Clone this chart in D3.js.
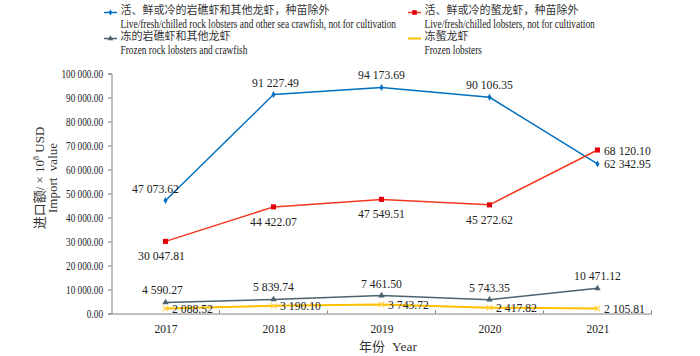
<!DOCTYPE html>
<html><head><meta charset="utf-8">
<script src="https://cdn.jsdelivr.net/npm/d3@7/dist/d3.min.js"></script>
<style>
html,body{margin:0;padding:0;background:#fff;}
svg{display:block;}
</style></head>
<body><svg id="c" width="700" height="356"></svg>
<script>
// ---------- data ----------
const years = ["2017", "2018", "2019", "2020", "2021"];
const rockLive = [47073.62, 91227.49, 94173.69, 90106.35, 62342.95];
const lobsterLive = [30047.81, 44422.07, 47549.51, 45272.62, 68120.10];
const rockFrozen = [4590.27, 5839.74, 7461.50, 5743.35, 10471.12];
const lobsterFrozen = [2088.52, 3190.10, 3743.72, 2417.82, 2105.81];
const yTicks = [0, 10000, 20000, 30000, 40000, 50000, 60000, 70000, 80000, 90000, 100000];
const seriesNamesZh = ["活、鲜或冷的岩礁虾和其他龙虾，种苗除外", "活、鲜或冷的螯龙虾，种苗除外", "冻的岩礁虾和其他龙虾", "冻螯龙虾"];
const seriesNamesEn = ["Live/fresh/chilled rock lobsters and other sea crawfish, not for cultivation",
  "Live/fresh/chilled lobsters, not for cultivation", "Frozen rock lobsters and crawfish", "Frozen lobsters"];

// ---------- styles ----------
const SERIF = "'Liberation Serif','Times New Roman',serif";
const CJK = "'Noto Sans CJK SC','Noto Sans CJK JP',sans-serif";
const styles = [
  {values: rockLive, line: "#0070C0", mark: "#0070C0", sym: d3.symbolDiamond, size: 14, width: 1.5,
   place: ["above","above","above","above","right"], dx: [-10, 2, 0, 0, 0]},
  {values: lobsterLive, line: "#F2381C", mark: "#E3000B", sym: d3.symbolSquare, size: 26, width: 1.5,
   place: ["below","below","below","below","right"], dx: [-4, 0, 0, 0, 0]},
  {values: rockFrozen, line: "#4B616E", mark: "#4B616E", sym: d3.symbolTriangle, size: 18, width: 1.5,
   place: ["above","above","above","above","above"], dx: [-3, 0, 0, 0, 0]},
  {values: lobsterFrozen, line: "#FFC000", mark: "#FFD24A", sym: d3.symbolTimes, size: 22, width: 2,
   place: ["right","right","right","right","right"], dx: [0, 0, 0, 0, 0], stroke: true}
];

const svg = d3.select("#c");
const loc = d3.formatLocale({decimal: ".", thousands: " ", grouping: [3], currency: ["", ""]});
const fmt = loc.format(",.2f");

function condense(sel, f) {
  sel.each(function() {
    const n = this.getComputedTextLength();
    if (n > 0) { this.setAttribute("textLength", n * f); this.setAttribute("lengthAdjust", "spacingAndGlyphs"); }
  });
}

// ---------- scales ----------
const pLeft = 111.5, pRight = 651.5, pTop = 73.5, pBottom = 313.5;
const x = d3.scalePoint().domain(years).range([pLeft, pRight]).padding(0.5);
const step = x.step();
const y = d3.scaleLinear().domain([0, 100000]).range([pBottom, pTop]);

// ---------- axes ----------
const yAxis = svg.append("g").attr("transform", `translate(${pLeft},0)`)
  .call(d3.axisLeft(y).tickValues(yTicks).tickFormat(fmt).tickSize(3.5).tickPadding(5));
yAxis.select(".domain").attr("stroke", "#808080");
yAxis.selectAll(".tick line").attr("stroke", "#808080");
yAxis.selectAll(".tick text").attr("font-family", SERIF).attr("font-size", 12).attr("fill", "#222").attr("dy", "0.34em");
condense(yAxis.selectAll(".tick text"), 0.77);

const xAxis = svg.append("g").attr("transform", `translate(0,${pBottom})`)
  .call(d3.axisBottom(x).tickSize(0).tickPadding(10));
xAxis.select(".domain").attr("stroke", "#808080");
xAxis.selectAll(".tick text").attr("font-family", SERIF).attr("font-size", 13).attr("fill", "#222");
condense(xAxis.selectAll(".tick text"), 0.88);
// category boundary ticks
xAxis.selectAll(".bnd").data(years).enter().append("line").attr("class", "bnd")
  .attr("x1", d => x(d) + step / 2).attr("x2", d => x(d) + step / 2)
  .attr("y1", 0).attr("y2", -3).attr("stroke", "#808080");

// axis titles
const yt = svg.append("g").attr("transform", "translate(46,178) rotate(-90)");
const t1 = yt.append("text").attr("text-anchor", "middle").attr("y", -2.5).attr("font-size", 13).attr("fill", "#333");
t1.append("tspan").attr("font-family", CJK).text("进口额");
t1.append("tspan").attr("font-family", SERIF).text("/ × 10");
t1.append("tspan").attr("font-family", SERIF).attr("font-size", 8).attr("dy", -5).text("8");
t1.append("tspan").attr("font-family", SERIF).attr("dy", 5).text(" USD");
yt.append("text").attr("text-anchor", "middle").attr("y", 11).attr("font-size", 13)
  .attr("font-family", SERIF).attr("fill", "#333").attr("xml:space", "preserve").text("Import  value");

const xt = svg.append("text").attr("x", 388).attr("y", 351).attr("text-anchor", "middle").attr("font-size", 13.5).attr("fill", "#333");
xt.append("tspan").attr("font-family", CJK).attr("font-size", 13).text("年份");
xt.append("tspan").attr("font-family", SERIF).attr("dx", 7).text("Year");

// ---------- lines ----------
const line = d3.line().x((d, i) => x(years[i])).y(d => y(d));
styles.forEach(s => {
  svg.append("path").datum(s.values).attr("d", line).attr("fill", "none")
    .attr("stroke", s.line).attr("stroke-width", s.width).attr("stroke-linejoin", "round");
  const sym = d3.symbol().type(s.sym).size(s.size);
  svg.selectAll(null).data(s.values).enter().append("path")
    .attr("transform", (d, i) => `translate(${x(years[i])},${y(d)})`)
    .attr("d", sym())
    .attr("fill", s.stroke ? "none" : s.mark)
    .attr("stroke", s.stroke ? s.mark : "none").attr("stroke-width", 1.2);
});

// ---------- labels ----------
styles.forEach(s => {
  const lab = svg.selectAll(null).data(s.values).enter().append("text")
    .attr("font-family", SERIF).attr("font-size", 13).attr("fill", "#222")
    .attr("text-anchor", (d, i) => s.place[i] === "right" ? "start" : "middle")
    .attr("x", (d, i) => x(years[i]) + s.dx[i] + (s.place[i] === "right" ? 6.5 : 0))
    .attr("y", (d, i) => y(d) + (s.place[i] === "above" ? -8 : s.place[i] === "below" ? 19 : 4.5))
    .text(d => fmt(d));
  condense(lab, 0.9);
});

// ---------- legend ----------
const legPos = [[104, 12], [408, 12], [104, 38], [408, 38]];
styles.forEach((s, k) => {
  const [lx, ly] = legPos[k];
  const g = svg.append("g").attr("transform", `translate(${lx},${ly})`);
  g.append("line").attr("x1", 0).attr("x2", 13).attr("y1", 0.5).attr("y2", 0.5)
    .attr("stroke", s.line).attr("stroke-width", s.width);
  if (!s.stroke) {
    g.append("path").attr("transform", "translate(6.5,0.5)").attr("d", d3.symbol().type(s.sym).size(s.size * 0.8)()).attr("fill", s.mark);
  }
  g.append("text").attr("x", 16.5).attr("y", 2).attr("font-family", CJK).attr("font-size", 11)
    .attr("fill", "#333").text(seriesNamesZh[k]);
  const en = g.append("text").attr("x", 16.5).attr("y", 16).attr("font-family", SERIF).attr("font-size", 12)
    .attr("fill", "#222").text(seriesNamesEn[k]);
  condense(en, 0.78);
});
</script></body></html>
